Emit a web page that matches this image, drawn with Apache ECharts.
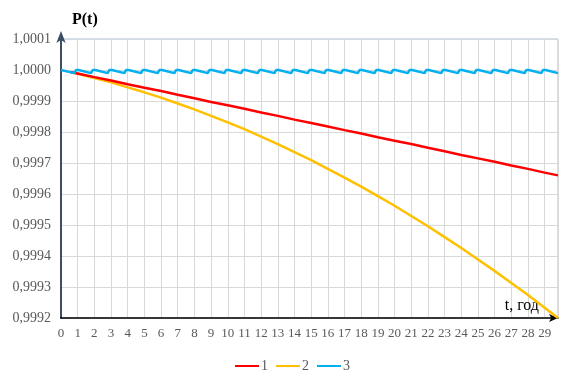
<!DOCTYPE html>
<html>
<head>
<meta charset="utf-8">
<script src="https://cdn.jsdelivr.net/npm/echarts@6/dist/echarts.min.js"></script>
<style>
html,body{margin:0;padding:0;background:#fff;}
#c{width:569px;height:371px;}
</style>
</head>
<body>
<div id="c"></div>
<script>
// ---- data ----
const xTickLabels = [0,1,2,3,4,5,6,7,8,9,10,11,12,13,14,15,16,17,18,19,20,21,22,23,24,25,26,27,28,29];
const yTickLabels = ['0,9992','0,9993','0,9994','0,9995','0,9996','0,9997','0,9998','0,9999','1,0000','1,0001'];
const seriesNames = ['1','2','3'];

const t1 = [0.6,1,2,3,4,5,6,7,8,9,10,11,12,13,14,15,16,17,18,19,20,21,22,23,24,25,26,27,28,29,29.8];
const p1 = [0.999993,0.999989,0.999977,0.999966,0.999954,0.999943,0.999932,0.999920,0.999909,0.999897,
            0.999886,0.999875,0.999863,0.999852,0.999840,0.999829,0.999818,0.999806,0.999795,0.999783,
            0.999772,0.999761,0.999749,0.999738,0.999726,0.999715,0.999704,0.999692,0.999681,0.999669,0.999660];

const t2 = [0.6,1,2,3,4,5,6,7,8,9,10,11,12,13,14,15,16,17,18,19,20,21,22,23,24,25,26,27,28,29,29.8];
const p2 = [0.999993,0.999988,0.999974,0.999960,0.999944,0.999928,0.999911,0.999892,0.999873,0.999852,
            0.999831,0.999809,0.999785,0.999761,0.999735,0.999709,0.999681,0.999653,0.999624,0.999593,
            0.999562,0.999529,0.999496,0.999461,0.999426,0.999389,0.999352,0.999313,0.999274,0.999233,0.999200];

const t3 = [0,0.8,0.9,1.05,1.8,1.9,2.05,2.8,2.9,3.05,3.8,3.9,4.05,4.8,4.9,5.05,5.8,5.9,6.05,6.8,6.9,7.05,
            7.8,7.9,8.05,8.8,8.9,9.05,9.8,9.9,10.05,10.8,10.9,11.05,11.8,11.9,12.05,12.8,12.9,13.05,
            13.8,13.9,14.05,14.8,14.9,15.05,15.8,15.9,16.05,16.8,16.9,17.05,17.8,17.9,18.05,18.8,18.9,19.05,
            19.8,19.9,20.05,20.8,20.9,21.05,21.8,21.9,22.05,22.8,22.9,23.05,23.8,23.9,24.05,24.8,24.9,25.05,
            25.8,25.9,26.05,26.8,26.9,27.05,27.8,27.9,28.05,28.8,28.9,29.05,29.8];
const p3 = [1.000000,0.999990,1.000000,1.000000,0.999990,1.000000,1.000000,0.999990,1.000000,1.000000,
            0.999990,1.000000,1.000000,0.999990,1.000000,1.000000,0.999990,1.000000,1.000000,0.999990,1.000000,1.000000,
            0.999990,1.000000,1.000000,0.999990,1.000000,1.000000,0.999990,1.000000,1.000000,0.999990,1.000000,1.000000,
            0.999990,1.000000,1.000000,0.999990,1.000000,1.000000,0.999990,1.000000,1.000000,0.999990,1.000000,1.000000,
            0.999990,1.000000,1.000000,0.999990,1.000000,1.000000,0.999990,1.000000,1.000000,0.999990,1.000000,1.000000,
            0.999990,1.000000,1.000000,0.999990,1.000000,1.000000,0.999990,1.000000,1.000000,0.999990,1.000000,1.000000,
            0.999990,1.000000,1.000000,0.999990,1.000000,1.000000,0.999990,1.000000,1.000000,0.999990,1.000000,1.000000,
            0.999990,1.000000,1.000000,0.999990,1.000000,1.000000,0.999990];

const colors = ['#FF0000','#FFC000','#00B0F0'];

function pairs(t,p){ return t.map((v,i)=>[v,p[i]]); }

const chart = echarts.init(document.getElementById('c'), null, {renderer:'canvas'});
const serif = '"Liberation Serif","Times New Roman",serif';
const option = {
  animation:false,
  backgroundColor:'#fff',
  grid:{left:61,right:11,top:39,bottom:53,show:true,borderColor:'#9DC3E6',borderWidth:1},
  legend:{
    top:354,left:230,itemWidth:24,itemHeight:2,itemGap:8,icon:'rect',
    textStyle:{fontFamily:serif,fontSize:14,color:'#595959',padding:[0,0,0,-3]},
    data:seriesNames
  },
  xAxis:{
    type:'value',min:0,max:29.8,interval:1,
    name:'t, год',nameLocation:'end',nameGap:-19,
    nameTextStyle:{fontFamily:serif,fontSize:16,color:'#000',align:'right',verticalAlign:'bottom',padding:[0,0,4,0]},
    axisLine:{show:true,lineStyle:{color:'#000',width:1.5},symbol:['none','arrow'],symbolSize:[6,9]},
    axisTick:{show:false},
    splitLine:{show:true,lineStyle:{color:'#D9D9D9',width:1}},
    axisLabel:{fontFamily:serif,fontSize:13,color:'#595959',margin:9,showMaxLabel:false,
      formatter:function(v){ const i = xTickLabels.indexOf(Math.round(v)); return (Math.abs(v-Math.round(v))<1e-6 && i>=0) ? String(xTickLabels[i]) : ''; }}
  },
  yAxis:{
    type:'value',min:0.9992,max:1.0001,interval:0.0001,
    name:'P(t)',nameLocation:'end',nameGap:11,
    nameTextStyle:{fontFamily:serif,fontSize:16,fontWeight:'bold',color:'#000',align:'left',padding:[0,0,0,11]},
    axisLine:{show:true,lineStyle:{color:'#3B4E66',width:2},symbol:['none','arrow'],symbolSize:[7,12],symbolOffset:[0,8]},
    axisTick:{show:false},
    splitLine:{show:true,lineStyle:{color:'#D9D9D9',width:1}},
    axisLabel:{fontFamily:serif,fontSize:14,color:'#595959',margin:10,
      formatter:function(v){ const i = Math.round((v-0.9992)/0.0001); return yTickLabels[i] || ''; }}
  },
  series:[
    {name:seriesNames[0],type:'line',data:pairs(t1,p1),showSymbol:false,symbol:'none',lineStyle:{color:colors[0],width:2.5},itemStyle:{color:colors[0]},z:3},
    {name:seriesNames[1],type:'line',data:pairs(t2,p2),showSymbol:false,symbol:'none',lineStyle:{color:colors[1],width:2.5},itemStyle:{color:colors[1]},z:2},
    {name:seriesNames[2],type:'line',data:pairs(t3,p3),showSymbol:false,symbol:'none',lineStyle:{color:colors[2],width:2.5},itemStyle:{color:colors[2]},z:4}
  ]
};
chart.setOption(option);
</script>
</body>
</html>
